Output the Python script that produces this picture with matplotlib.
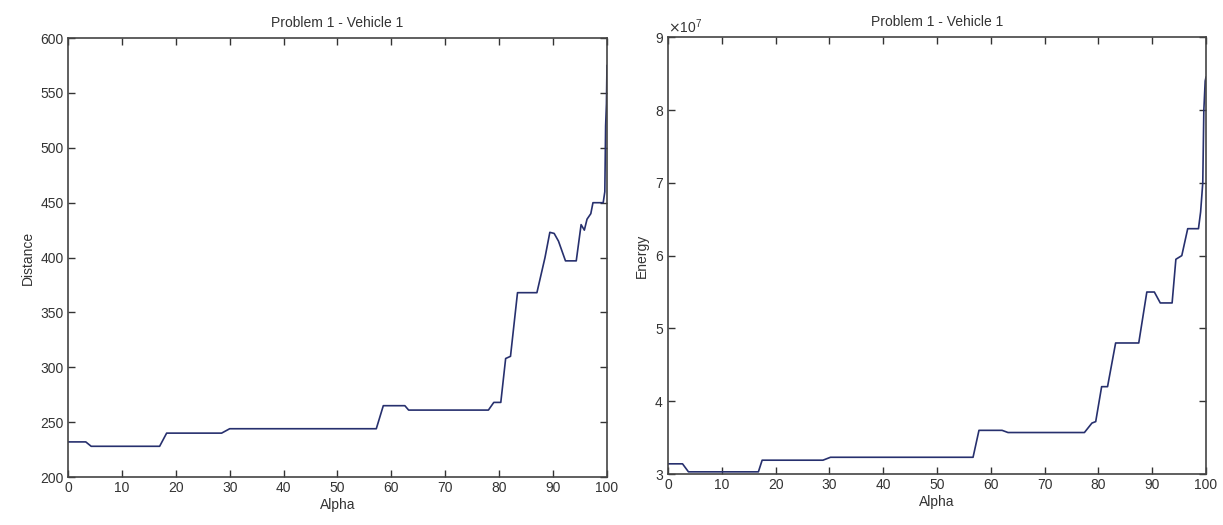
import numpy as np
import matplotlib.pyplot as plt
from matplotlib.ticker import ScalarFormatter

# Distance vs alpha (left panel)
alpha_d = [0, 3.3, 4.3, 17.0, 18.3, 28.5, 30.0, 57.2, 58.5, 62.5, 63.2, 78.0,
           79.0, 80.3, 81.2, 82.1, 83.4, 86.1, 87.0, 88.5, 89.4, 90.2, 91.0,
           92.3, 94.3, 95.2, 95.8, 96.3, 97.0, 97.4, 99.3, 99.6, 99.75, 99.9, 100]
distance = [232, 232, 228, 228, 240, 240, 244, 244, 265, 265, 261, 261,
            268, 268, 308, 310, 368, 368, 368, 400, 423, 422, 415,
            397, 397, 430, 425, 435, 440, 450, 450, 460, 520, 540, 575]

# Energy vs alpha (right panel)
alpha_e = [0, 2.7, 3.8, 16.8, 17.5, 28.8, 30.2, 56.7, 57.8, 62.1, 63.2, 77.4,
           78.8, 79.5, 80.6, 81.7, 83.2, 87.5, 89.0, 90.4, 91.5, 93.7, 94.4,
           95.5, 96.6, 98.6, 99.0, 99.4, 99.6, 99.85, 100]
energy = [3.14, 3.14, 3.03, 3.03, 3.19, 3.19, 3.23, 3.23, 3.60, 3.60, 3.57, 3.57,
          3.70, 3.72, 4.20, 4.20, 4.80, 4.80, 5.50, 5.50, 5.35, 5.35, 5.95,
          6.00, 6.37, 6.37, 6.60, 7.00, 8.00, 8.40, 8.45]
energy = [e * 1e7 for e in energy]

plt.rcParams['font.family'] = ['Liberation Sans', 'DejaVu Sans']
plt.rcParams['font.size'] = 10
plt.rcParams['text.color'] = '#333333'
plt.rcParams['axes.labelcolor'] = '#333333'
plt.rcParams['xtick.color'] = '#333333'
plt.rcParams['ytick.color'] = '#333333'

line_color = '#27306e'
edge = '#444444'

fig = plt.figure(figsize=(12.23, 5.25), dpi=100)
ax1 = fig.add_axes([0.0556, 0.0914, 0.4407, 0.836])
ax2 = fig.add_axes([0.5462, 0.0971, 0.4399, 0.832])

for ax in (ax1, ax2):
    ax.set_xlim(0, 100)
    ax.set_xticks(np.arange(0, 101, 10))
    ax.tick_params(direction='in', top=True, right=True, length=5, width=1,
                   pad=3, labelsize=10)
    for s in ax.spines.values():
        s.set_color(edge)
        s.set_linewidth(1.2)
    ax.set_xlabel('Alpha', fontsize=10, labelpad=2)
    ax.set_title('Problem 1 - Vehicle 1', fontsize=10, pad=8)

ax1.plot(alpha_d, distance, color=line_color, linewidth=1.2)
ax1.set_ylim(200, 600)
ax1.set_yticks(np.arange(200, 601, 50))
ax1.set_ylabel('Distance', fontsize=10, labelpad=4)

ax2.plot(alpha_e, energy, color=line_color, linewidth=1.2)
ax2.set_ylim(3e7, 9e7)
ax2.set_yticks(np.arange(3e7, 9.01e7, 1e7))
fmt = ScalarFormatter(useMathText=True)
fmt.set_powerlimits((0, 0))
ax2.yaxis.set_major_formatter(fmt)
ax2.yaxis.get_offset_text().set_fontsize(10)
ax2.set_ylabel('Energy', fontsize=10, labelpad=4)

fig.savefig('out.png', dpi=100)
